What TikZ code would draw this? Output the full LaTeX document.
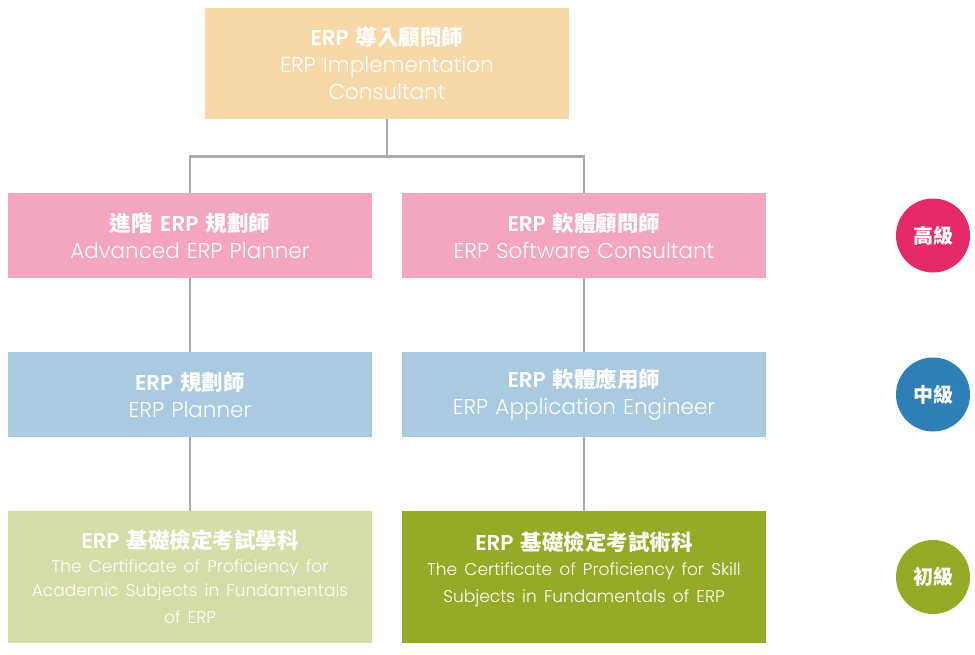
\documentclass[tikz,border=0pt]{standalone}
\usepackage{fontspec}
\setmainfont{Poppins}[UprightFont={* Light}, BoldFont={* SemiBold}]
\newfontfamily\cjk{Noto Sans CJK TC}
\newcommand{\zh}[1]{{\cjk #1}}
\usepackage{tikz}
\usetikzlibrary{positioning}
\definecolor{peach}{HTML}{F8D8A9}
\definecolor{pinkbox}{HTML}{F4A6C0}
\definecolor{bluebox}{HTML}{A9CAE0}
\definecolor{palegreen}{HTML}{D4DEA8}
\definecolor{olive}{HTML}{97AA27}
\definecolor{highc}{HTML}{E52866}
\definecolor{midc}{HTML}{2F7FB7}
\definecolor{linegray}{HTML}{ABABAB}
\tikzstyle{cert} = [rectangle, minimum width=364pt, minimum height=85pt, text width=350pt, align=center, text=white, font=\fontsize{21.5}{27}\selectfont, inner sep=0pt]
\tikzstyle{level} = [circle, minimum size=74pt, inner sep=0pt, text=white, font=\cjk\bfseries\fontsize{20}{22}\selectfont]
\tikzstyle{line} = [draw=linegray, line width=2.6pt]

\begin{document}
\begin{tikzpicture}[x=1pt, y=-1pt, on grid]
	\useasboundingbox (0,0) rectangle (975,654);
	\node (consult) [cert, fill=peach, minimum height=111pt] at (387,63.5) {\textbf{ERP \zh{導入顧問師}}\\ERP Implementation\\Consultant};
	
	\node (advplanner) [cert, fill=pinkbox, below left=172pt and 197pt of consult] {\textbf{\zh{進階} ERP \zh{規劃師}}\\Advanced ERP Planner};
	\node (swconsult) [cert, fill=pinkbox, right=394pt of advplanner] {\textbf{ERP \zh{軟體顧問師}}\\ERP Software Consultant};
	
	\node (planner) [cert, fill=bluebox, below=159pt of advplanner] {\textbf{ERP \zh{規劃師}}\\ERP Planner};
	\node (appeng) [cert, fill=bluebox, below=159pt of swconsult] {\textbf{ERP \zh{軟體應用師}}\\ERP Application Engineer};
	
	\node (academic) [cert, fill=palegreen, minimum height=132pt, below=182.5pt of planner] {\textbf{ERP \zh{基礎檢定考試學科}}\\{\fontsize{17}{24}\selectfont The Certificate of Proficiency for\\Academic Subjects in Fundamentals\\of ERP}};
	\node (skill) [cert, fill=olive, minimum height=132pt, below=182.5pt of appeng] {\textbf{ERP \zh{基礎檢定考試術科}}\\{\fontsize{17}{25}\selectfont The Certificate of Proficiency for Skill\\Subjects in Fundamentals of ERP}\\[-7pt]\mbox{}};
	
	\node (high) [level, fill=highc, right=349pt of swconsult] {高級};
	\node (mid) [level, fill=midc, right=349pt of appeng] {中級};
	\node (low) [level, fill=olive, right=349pt of skill] {初級};
	
	\coordinate (split) at ([yshift=-37pt]consult.south);
	\draw [line] (consult.south) -- (split);
	\draw [line] (split) -| (advplanner.north);
	\draw [line] (split) -| (swconsult.north);
	\draw [line] (advplanner) -- (planner);
	\draw [line] (planner) -- (academic);
	\draw [line] (swconsult) -- (appeng);
	\draw [line] (appeng) -- (skill);
	
\end{tikzpicture}
\end{document}
